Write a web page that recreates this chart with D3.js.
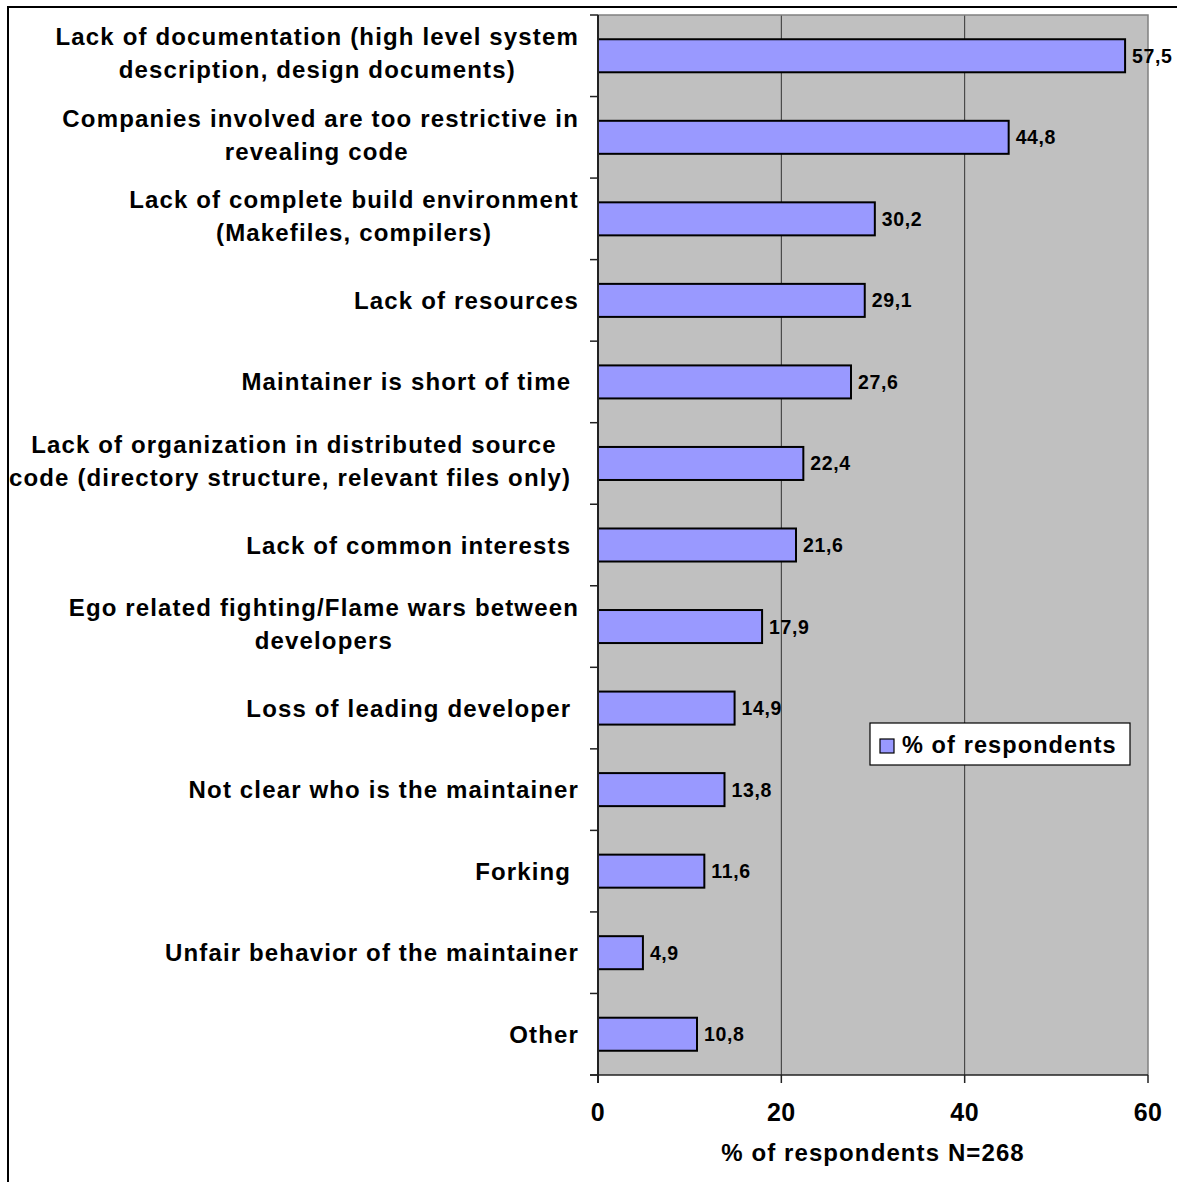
<!DOCTYPE html>
<html>
<head>
<meta charset="utf-8">
<script src="https://cdn.jsdelivr.net/npm/d3@7"></script>
<style>
  html, body { margin: 0; padding: 0; background: #fff; }
  svg text { font-family: "Liberation Sans", Arial, sans-serif; font-weight: bold; white-space: pre; fill: #000; }
</style>
</head>
<body>
<script>
// ---- data ----
const categoryLines = [
  ["Lack of documentation (high level system", "description, design documents)"],
  ["Companies involved are too restrictive in", "revealing code "],
  ["Lack of complete build environment", "(Makefiles, compilers)"],
  ["Lack of resources"],
  ["Maintainer is short of time "],
  ["Lack of organization in distributed source", "code (directory structure, relevant files only) "],
  ["Lack of common interests "],
  ["Ego related fighting/Flame wars between", "developers"],
  ["Loss of leading developer "],
  ["Not clear who is the maintainer"],
  ["Forking "],
  ["Unfair behavior of the maintainer"],
  ["Other"]
];
const values = [57.5, 44.8, 30.2, 29.1, 27.6, 22.4, 21.6, 17.9, 14.9, 13.8, 11.6, 4.9, 10.8];
const xTicks = [0, 20, 40, 60];
const seriesName = "% of respondents";
const xAxisTitle = "% of respondents N=268";

const categories = categoryLines.map(l => l.join(" "));
const data = categories.map((c, i) => ({ cat: c, lines: categoryLines[i], v: values[i] }));

const W = 1177, H = 1182;
const plot = { left: 598, right: 1148, top: 15, bottom: 1075 };

const svg = d3.select("body").append("svg")
  .attr("width", W).attr("height", H);

// outer chart border (extends off-canvas on right/bottom)
svg.append("rect")
  .attr("x", 8).attr("y", 7).attr("width", 1300).attr("height", 1300)
  .attr("fill", "none").attr("stroke", "#000").attr("stroke-width", 2);

const x = d3.scaleLinear().domain([0, 60]).range([plot.left, plot.right]);
const y = d3.scaleBand().domain(categories).range([plot.top, plot.bottom])
  .paddingInner(0.595).paddingOuter(0.2975);

// plot background
svg.append("rect")
  .attr("x", plot.left).attr("y", plot.top)
  .attr("width", plot.right - plot.left).attr("height", plot.bottom - plot.top)
  .attr("fill", "#C0C0C0");

// gridlines
svg.append("g").selectAll("line").data(xTicks.filter(t => t > 0 && t < 60)).join("line")
  .attr("x1", d => x(d)).attr("x2", d => x(d))
  .attr("y1", plot.top).attr("y2", plot.bottom)
  .attr("stroke", "#333").attr("stroke-width", 1);

// plot border top/right (gray)
svg.append("path")
  .attr("d", `M${plot.left},${plot.top}H${plot.right}V${plot.bottom}`)
  .attr("fill", "none").attr("stroke", "#808080").attr("stroke-width", 1.5);

// bars
svg.append("g").selectAll("rect").data(data).join("rect")
  .attr("x", x(0)).attr("y", d => y(d.cat))
  .attr("width", d => x(d.v) - x(0)).attr("height", y.bandwidth())
  .attr("fill", "#9999FF").attr("stroke", "#000").attr("stroke-width", 2);

// value labels
svg.append("g").selectAll("text").data(data).join("text")
  .attr("x", d => x(d.v) + 7)
  .attr("y", d => y(d.cat) + y.bandwidth() / 2 + 7)
  .style("font-size", "19.5px").style("letter-spacing", "0.6px")
  .text(d => String(d.v).replace(".", ","));

// category axis (left) line and ticks at band boundaries
const step = y.step();
const boundaries = d3.range(categories.length + 1).map(i => plot.top + i * step);
svg.append("line")
  .attr("x1", plot.left).attr("x2", plot.left)
  .attr("y1", plot.top).attr("y2", plot.bottom + 8)
  .attr("stroke", "#222").attr("stroke-width", 2);
svg.append("g").selectAll("line").data(boundaries).join("line")
  .attr("x1", plot.left - 8).attr("x2", plot.left)
  .attr("y1", d => d).attr("y2", d => d)
  .attr("stroke", "#222").attr("stroke-width", 1.5);

// x axis line and ticks
svg.append("line")
  .attr("x1", plot.left - 8).attr("x2", plot.right)
  .attr("y1", plot.bottom).attr("y2", plot.bottom)
  .attr("stroke", "#222").attr("stroke-width", 1.5);
svg.append("g").selectAll("line").data(xTicks).join("line")
  .attr("x1", d => x(d)).attr("x2", d => x(d))
  .attr("y1", plot.bottom).attr("y2", plot.bottom + 8)
  .attr("stroke", "#222").attr("stroke-width", 1.5);
svg.append("g").selectAll("text").data(xTicks).join("text")
  .attr("x", d => x(d)).attr("y", 1121)
  .attr("text-anchor", "middle")
  .style("font-size", "25px").style("letter-spacing", "0.4px")
  .text(d => d);

// axis title
svg.append("text")
  .attr("x", (plot.left + plot.right) / 2).attr("y", 1161)
  .attr("text-anchor", "middle")
  .style("font-size", "24px").style("letter-spacing", "1.1px")
  .text(xAxisTitle);

// category labels
const labelRight = 579;
const lineH = 33;
const lg = svg.append("g").selectAll("g").data(data).join("g");
lg.each(function(d) {
  const g = d3.select(this);
  const cy = y(d.cat) + y.bandwidth() / 2;
  const n = d.lines.length;
  const firstBase = n === 1 ? cy + 8.5 : cy - 10.5;
  const texts = d.lines.map((ln, j) => g.append("text")
    .attr("y", firstBase + j * lineH)
    .attr("text-anchor", "middle")
    .style("font-size", "24px").style("letter-spacing", "1.15px")
    .text(ln));
  const maxW = d3.max(texts, t => t.node().getComputedTextLength());
  texts.forEach(t => t.attr("x", labelRight - maxW / 2));
});

// legend
const leg = svg.append("g");
leg.append("rect").attr("x", 870).attr("y", 723).attr("width", 260).attr("height", 42)
  .attr("fill", "#fff").attr("stroke", "#000").attr("stroke-width", 1.2);
leg.append("rect").attr("x", 880).attr("y", 739).attr("width", 14).attr("height", 14)
  .attr("fill", "#9999FF").attr("stroke", "#000").attr("stroke-width", 1.2);
leg.append("text").attr("x", 902).attr("y", 753)
  .style("font-size", "23.5px").style("letter-spacing", "1.1px")
  .text(seriesName);
</script>
</body>
</html>
